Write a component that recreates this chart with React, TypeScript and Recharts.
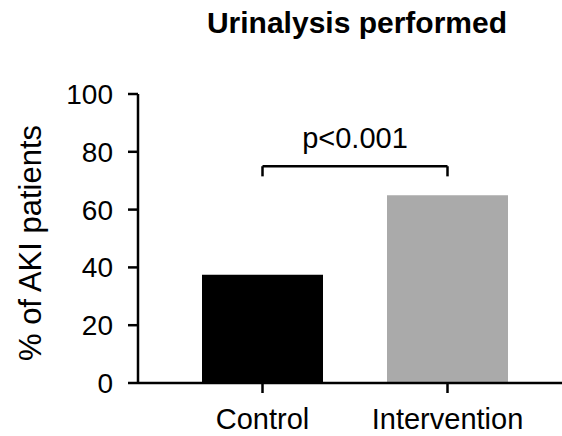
import { Bar, BarChart, Cell, ReferenceLine, XAxis, YAxis } from "recharts"

const groups = ["Control", "Intervention"]
const percentPerformed = [37.5, 65]
const barColors = ["#000000", "#aaaaaa"]
const yTicks = [0, 20, 40, 60, 80, 100]
const bracketTop = 75
const bracketFoot = 71.5
const pLabel = "p<0.001"

const data = groups.map((g, i) => ({ group: g, value: percentPerformed[i] }))

const font = "'Liberation Sans', Arial, Helvetica, sans-serif"

export default function App() {
  return (
    <div style={{ position: "absolute", left: 0, top: 0, width: 562, height: 436, background: "#fff", fontFamily: font }}>
      <svg width={562} height={60} style={{ position: "absolute", left: 0, top: 0 }}>
        <text x={357} y={33} textAnchor="middle" fontSize={30} fontWeight="bold" fill="#000" fontFamily={font}>
          Urinalysis performed
        </text>
      </svg>
      <BarChart
        width={562}
        height={436}
        data={data}
        margin={{ top: 94, right: 0, left: 0, bottom: 0 }}
        barSize={121}
      >
        <XAxis
          dataKey="group"
          height={53}
          padding={{ left: 32, right: 22 }}
          axisLine={{ stroke: "#000", strokeWidth: 2.5 }}
          tickLine={{ stroke: "#000", strokeWidth: 2.5 }}
          tickSize={10}
          tickMargin={15}
          tick={{ fill: "#000", fontSize: 29, fontFamily: font }}
        />
        <YAxis
          width={138}
          domain={[0, 100]}
          ticks={yTicks}
          axisLine={{ stroke: "#000", strokeWidth: 2.5 }}
          tickLine={{ stroke: "#000", strokeWidth: 2.5 }}
          tickSize={10}
          tickMargin={15}
          tick={{ fill: "#000", fontSize: 28, fontFamily: font }}
          label={{
            content: () => (
              <text
                x={41}
                y={243}
                transform="rotate(-90 41 243)"
                textAnchor="middle"
                fontSize={31}
                fill="#000"
                fontFamily={font}
              >
                % of AKI patients
              </text>
            ),
          }}
        />
        <Bar dataKey="value" isAnimationActive={false}>
          {data.map((d, i) => (
            <Cell key={d.group} fill={barColors[i]} />
          ))}
        </Bar>
        <ReferenceLine
          segment={[
            { x: groups[0], y: bracketTop },
            { x: groups[1], y: bracketTop },
          ]}
          stroke="#000"
          strokeWidth={2.5}
          label={{ value: pLabel, position: "top", offset: 18, fontSize: 29, fill: "#000", fontFamily: font }}
        />
        <ReferenceLine
          segment={[
            { x: groups[0], y: bracketTop },
            { x: groups[0], y: bracketFoot },
          ]}
          stroke="#000"
          strokeWidth={2.5}
        />
        <ReferenceLine
          segment={[
            { x: groups[1], y: bracketTop },
            { x: groups[1], y: bracketFoot },
          ]}
          stroke="#000"
          strokeWidth={2.5}
        />
      </BarChart>
    </div>
  )
}
